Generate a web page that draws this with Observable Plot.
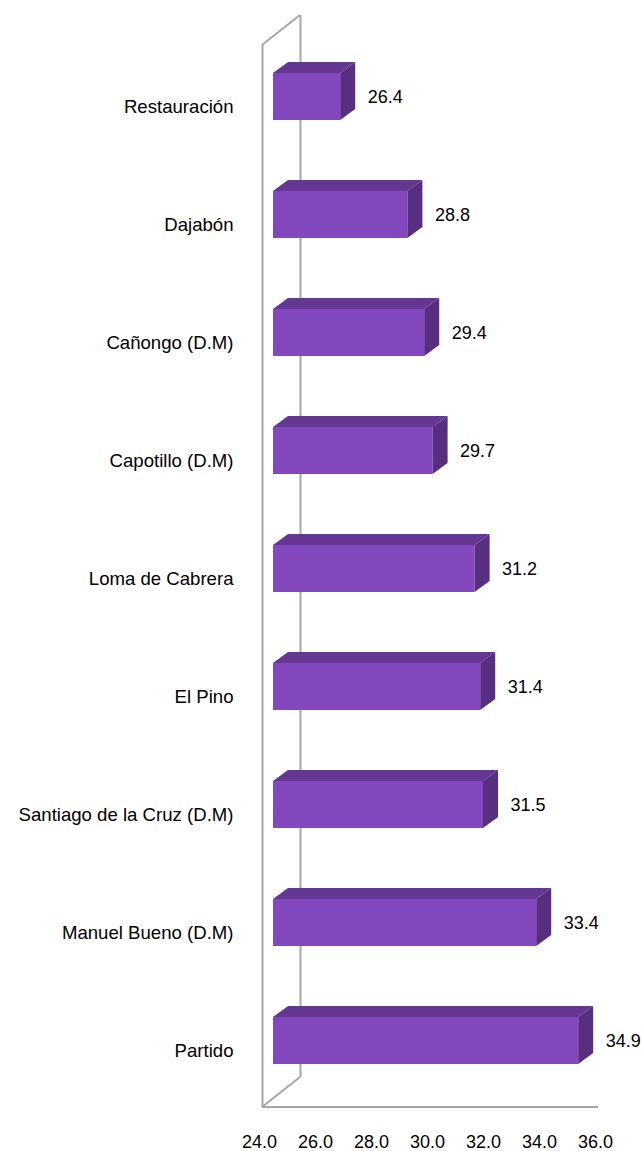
<!DOCTYPE html>
<html>
<head>
<meta charset="utf-8">
<script src="https://cdn.jsdelivr.net/npm/d3@7"></script>
<script src="https://cdn.jsdelivr.net/npm/@observablehq/plot@0.6"></script>
<style>
  html, body { margin: 0; padding: 0; background: #ffffff; }
  #chart { width: 641px; height: 1151px; }
</style>
</head>
<body>
<div id="chart"></div>
<script>
// ---- data ----
const categories = [
  "Restauración",
  "Dajabón",
  "Cañongo (D.M)",
  "Capotillo (D.M)",
  "Loma de Cabrera",
  "El Pino",
  "Santiago de la Cruz (D.M)",
  "Manuel Bueno (D.M)",
  "Partido"
];
const values = [26.4, 28.8, 29.4, 29.7, 31.2, 31.4, 31.5, 33.4, 34.9];
const xTicks = [24, 26, 28, 30, 32, 34, 36];
const baseline = 24;

const data = categories.map((c, i) => ({category: c, value: values[i]}));

// ---- style ----
const FRONT = "#8348BE", TOP = "#633792", SIDE = "#572E80", WALL = "#a6a6a6";
const BAR_DX = 11, BAR_DY = -9;      // bar set back into the 3D depth
const DEPTH_X = 15, DEPTH_Y = -11;   // bar thickness
const WALL_DX = 38, WALL_DY = -30;   // depth of the chart box
const FONT = "'Liberation Sans', Arial, sans-serif";
const fmt = d3.format(".1f");

const plot = Plot.plot({
  width: 641,
  height: 1151,
  marginTop: 45,
  marginBottom: 44,
  marginLeft: 262,
  marginRight: 43,
  style: {fontFamily: FONT, fontSize: "18px", color: "#000", background: "#fff", overflow: "visible"},
  x: {type: "linear", domain: [24, 36], range: [262, 598], label: null},
  y: {type: "band", domain: categories, range: [10.3, 1144.1], padding: 0.6, label: null},
  marks: [
    Plot.ruleX([baseline], {dx: WALL_DX, dy: WALL_DY, stroke: WALL, strokeWidth: 2}),
    Plot.barX(data, {x1: baseline, x2: "value", y: "category", dx: BAR_DX, dy: BAR_DY, fill: FRONT}),
    Plot.ruleX([baseline], {stroke: WALL, strokeWidth: 2}),
    Plot.text(data, {x: "value", y: "category", text: d => fmt(d.value), dx: 38, dy: -9,
                     textAnchor: "start", fill: "#000", fontSize: 18}),
    Plot.axisX(xTicks, {tickSize: 0, tickPadding: 28, dx: -3, tickFormat: fmt, label: null, fontSize: 18}),
    Plot.axisY({tickSize: 0, tickPadding: 29, dy: 1, label: null, fontSize: 18.6})
  ]
});

document.getElementById("chart").appendChild(plot);

// ---- 3D decoration drawn through Plot's own scales ----
const svg = d3.select(plot.tagName.toLowerCase() === "svg" ? plot : plot.querySelector("svg"));
const xs = plot.scale("x"), ys = plot.scale("y");
const X = v => xs.apply(v);
const Y = c => ys.apply(c);
const bw = ys.bandwidth;
const frameTop = 45, frameBottom = 1151 - 44;

// walls (behind everything)
const walls = svg.insert("g", ":first-child").attr("stroke", WALL).attr("stroke-width", 2).attr("fill", "none");
const x0w = X(baseline), x1w = X(xTicks[xTicks.length - 1]);
walls.append("line").attr("x1", x0w).attr("y1", frameTop).attr("x2", x0w + WALL_DX).attr("y2", frameTop + WALL_DY);
walls.append("line").attr("x1", x0w).attr("y1", frameBottom).attr("x2", x0w + WALL_DX).attr("y2", frameBottom + WALL_DY);
walls.append("line").attr("x1", x0w).attr("y1", frameBottom).attr("x2", x1w).attr("y2", frameBottom);

// top and side faces of the bars
const faces = svg.append("g");
data.forEach(d => {
  const xa = X(baseline) + BAR_DX, xb = X(d.value) + BAR_DX;
  const ya = Y(d.category) + BAR_DY, yb = ya + bw;
  const topPts = [[xa, ya], [xb, ya], [xb + DEPTH_X, ya + DEPTH_Y], [xa + DEPTH_X, ya + DEPTH_Y]];
  const sidePts = [[xb, ya], [xb + DEPTH_X, ya + DEPTH_Y], [xb + DEPTH_X, yb + DEPTH_Y], [xb, yb]];
  faces.append("polygon").attr("points", topPts.map(p => p.join(",")).join(" ")).attr("fill", TOP);
  faces.append("polygon").attr("points", sidePts.map(p => p.join(",")).join(" ")).attr("fill", SIDE);
});
</script>
</body>
</html>
